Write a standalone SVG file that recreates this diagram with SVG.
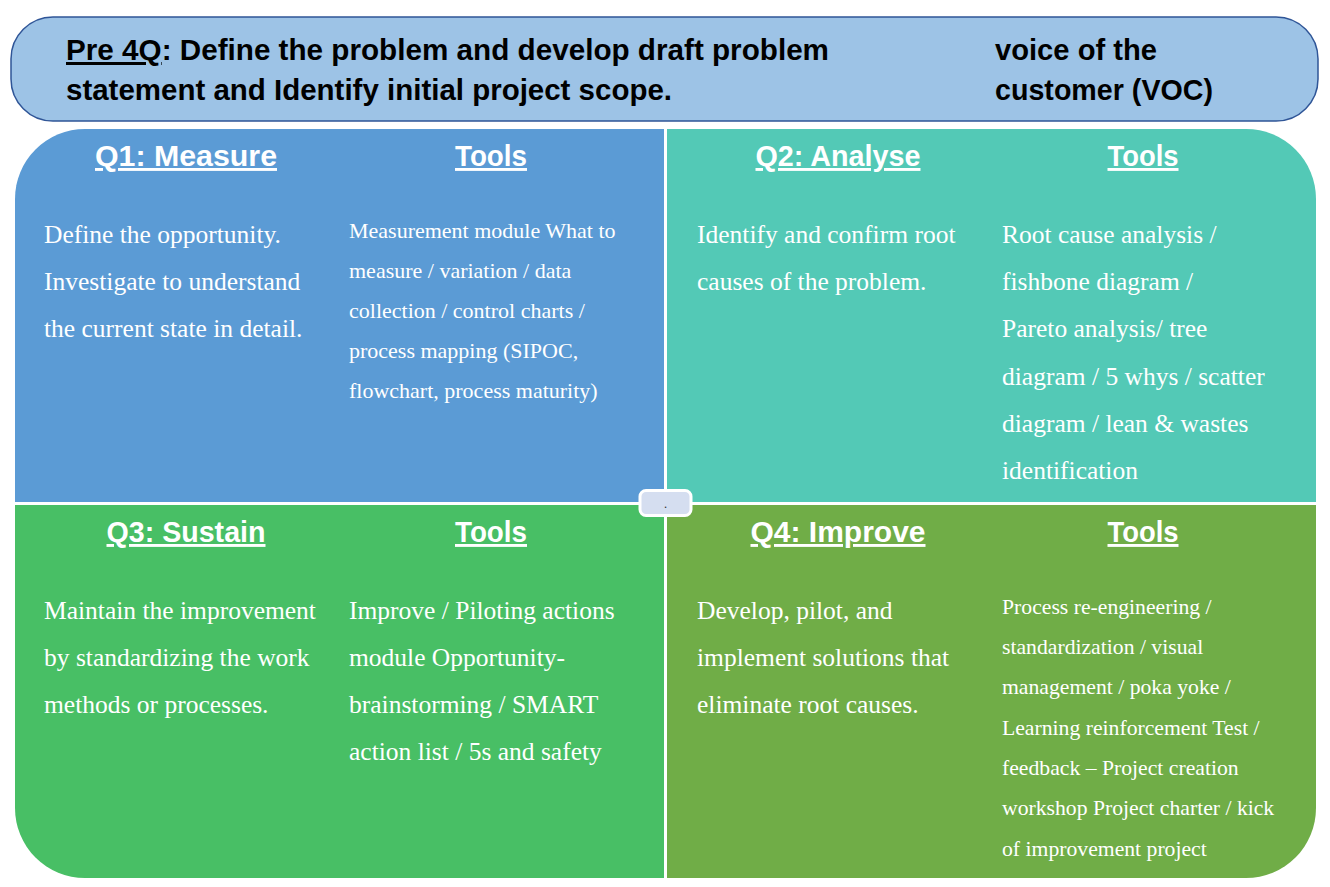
<svg xmlns="http://www.w3.org/2000/svg" width="1330" height="887" viewBox="0 0 1330 887">
<style>
.hd{font-family:"Liberation Sans",Arial,sans-serif;font-weight:bold;font-size:29px;fill:#fff;text-decoration:underline;text-anchor:middle}
.bn{font-family:"Liberation Sans",Arial,sans-serif;font-weight:bold;font-size:30px;fill:#000}
.bd{font-family:"Liberation Serif","Times New Roman",serif;font-size:25.5px;fill:#fff}
.tl{font-family:"Liberation Serif","Times New Roman",serif;font-size:21.7px;fill:#fff}
.tl1{font-family:"Liberation Serif","Times New Roman",serif;font-size:22px;fill:#fff}
</style>
<rect width="1330" height="887" fill="#fff"/>
<g id="banner">
<rect x="11" y="17" width="1307" height="104" rx="42" ry="42" fill="#9DC3E6" stroke="#2F5597" stroke-width="1.5"/>
<text class="bn" x="66" y="60" textLength="763" lengthAdjust="spacingAndGlyphs"><tspan text-decoration="underline">Pre 4Q</tspan>: Define the problem and develop draft problem</text>
<text class="bn" x="66" y="100" textLength="606" lengthAdjust="spacingAndGlyphs">statement and Identify initial project scope.</text>
<text class="bn" x="995" y="60" textLength="162" lengthAdjust="spacingAndGlyphs">voice of the</text>
<text class="bn" x="995" y="100" textLength="218" lengthAdjust="spacingAndGlyphs">customer (VOC)</text>
</g>
<g id="q1">
<path d="M15,199 A70,70 0 0 1 85,129 L664,129 L664,502 L15,502 Z" fill="#5B9BD5"/>
<text class="hd" x="186" y="166" textLength="182" lengthAdjust="spacingAndGlyphs">Q1: Measure</text>
<text class="hd" x="491" y="166" textLength="72" lengthAdjust="spacingAndGlyphs">Tools</text>
<text class="bd" x="44" y="243">Define the opportunity.</text>
<text class="bd" x="44" y="290">Investigate to understand</text>
<text class="bd" x="44" y="337">the current state in detail.</text>
<text class="tl1" x="349" y="238">Measurement module What to</text>
<text class="tl1" x="349" y="278">measure / variation / data</text>
<text class="tl1" x="349" y="318">collection / control charts /</text>
<text class="tl1" x="349" y="358">process mapping (SIPOC,</text>
<text class="tl1" x="349" y="398">flowchart, process maturity)</text>
</g>
<g id="q2">
<path d="M667,129 L1246,129 A70,70 0 0 1 1316,199 L1316,502 L667,502 Z" fill="#53C9B6"/>
<text class="hd" x="838" y="166" textLength="165" lengthAdjust="spacingAndGlyphs">Q2: Analyse</text>
<text class="hd" x="1143" y="166" textLength="71" lengthAdjust="spacingAndGlyphs">Tools</text>
<text class="bd" x="697" y="243">Identify and confirm root</text>
<text class="bd" x="697" y="290">causes of the problem.</text>
<text class="bd" x="1002" y="243">Root cause analysis /</text>
<text class="bd" x="1002" y="290">fishbone diagram /</text>
<text class="bd" x="1002" y="337">Pareto analysis/ tree</text>
<text class="bd" x="1002" y="385">diagram / 5 whys / scatter</text>
<text class="bd" x="1002" y="432">diagram / lean &amp; wastes</text>
<text class="bd" x="1002" y="479">identification</text>
</g>
<g id="q3">
<path d="M15,505 L664,505 L664,878 L85,878 A70,70 0 0 1 15,808 Z" fill="#48BF65"/>
<text class="hd" x="186" y="542" textLength="159" lengthAdjust="spacingAndGlyphs">Q3: Sustain</text>
<text class="hd" x="491" y="542" textLength="72" lengthAdjust="spacingAndGlyphs">Tools</text>
<text class="bd" x="44" y="619">Maintain the improvement</text>
<text class="bd" x="44" y="666">by standardizing the work</text>
<text class="bd" x="44" y="713">methods or processes.</text>
<text class="bd" x="349" y="619">Improve / Piloting actions</text>
<text class="bd" x="349" y="666">module Opportunity-</text>
<text class="bd" x="349" y="713">brainstorming / SMART</text>
<text class="bd" x="349" y="760">action list / 5s and safety</text>
</g>
<g id="q4">
<path d="M667,505 L1316,505 L1316,808 A70,70 0 0 1 1246,878 L667,878 Z" fill="#70AD47"/>
<text class="hd" x="838" y="542" textLength="175" lengthAdjust="spacingAndGlyphs">Q4: Improve</text>
<text class="hd" x="1143" y="542" textLength="71" lengthAdjust="spacingAndGlyphs">Tools</text>
<text class="bd" x="697" y="619">Develop, pilot, and</text>
<text class="bd" x="697" y="666">implement solutions that</text>
<text class="bd" x="697" y="713">eliminate root causes.</text>
<text class="tl" x="1002" y="614">Process re-engineering /</text>
<text class="tl" x="1002" y="654">standardization / visual</text>
<text class="tl" x="1002" y="694">management / poka yoke /</text>
<text class="tl" x="1002" y="735">Learning reinforcement Test /</text>
<text class="tl" x="1002" y="775">feedback – Project creation</text>
<text class="tl" x="1002" y="815">workshop Project charter / kick</text>
<text class="tl" x="1002" y="856">of improvement project</text>
</g>
<g id="center">
<rect x="640" y="490.5" width="51" height="25" rx="6" ry="6" fill="#D5DEF0" stroke="#fff" stroke-width="3"/>
<text x="665.5" y="508" font-family="Liberation Sans, Arial, sans-serif" font-size="13" fill="#333" text-anchor="middle">.</text>
</g>
<g id="connectors"/>
</svg>
